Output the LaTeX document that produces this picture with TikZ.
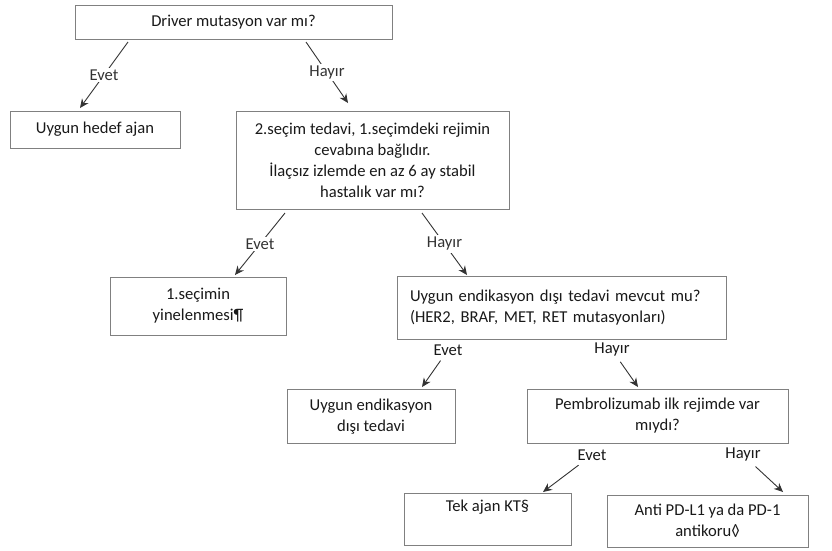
\documentclass[tikz,border=0pt]{standalone}
\usepackage{fontspec}
\setmainfont{Carlito}
\usetikzlibrary{arrows.meta, positioning}

\begin{document}
\begin{tikzpicture}[x=1pt, y=-1pt, font=\fontsize{16.6}{21}\selectfont, text=black!90,
    box/.style={draw=black!50, line width=1pt, align=center, inner sep=0pt},
    ans/.style={fill=white, inner sep=2pt},
    arr/.style={-{Stealth[length=9pt,width=8pt]}, black!80, line width=0.9pt}]
    \useasboundingbox (0,0) rectangle (832,550);
    % boxes
    \node (q1) [box, minimum width=317pt, minimum height=34pt] at (233.5,22) {Driver mutasyon var mı?};
    \node (q2) [box, minimum width=170pt, minimum height=37pt] at (95,129.5) {Uygun hedef ajan};
    \node (q3) [box, minimum width=273pt, minimum height=98pt] at (372.5,160)
        {2.seçim tedavi, 1.seçimdeki rejimin\\cevabına bağlıdır.\\İlaçsız izlemde en az 6 ay stabil\\hastalık var mı?};
    \node (q4) [box, minimum width=176pt, minimum height=58pt] at (198,306) {1.seçimin\\yinelenmesi¶};
    \node (q5) [box, align=left, text width=303pt, minimum width=329pt, minimum height=63pt] at (561.5,308)
        {Uygun endikasyon dışı tedavi mevcut mu?\\(HER2, BRAF, MET, RET mutasyonları)};
    \node (q6) [box, minimum width=168pt, minimum height=54pt] at (371,416.5) {Uygun endikasyon\\dışı tedavi};
    \node (q7) [box, minimum width=261pt, minimum height=54pt] at (657.5,416) {Pembrolizumab ilk rejimde var\\mıydı?};
    \node (q8) [box, minimum width=167pt, minimum height=52pt] at (487.5,519) {Tek ajan KT§\\\strut};
    \node (q9) [box, minimum width=201pt, minimum height=52pt] at (707.5,521) {Anti PD-L1 ya da PD-1\\antikoru◊};
    % connector ends
    \coordinate (s1) at (128,42);  \coordinate (t1) at (80,108);
    \coordinate (s2) at (306,42);  \coordinate (t2) at (348,103);
    \coordinate (s3) at (285,213); \coordinate (t3) at (235,275);
    \coordinate (s4) at (422,213); \coordinate (t4) at (467,275);
    \coordinate (t5) at (422,387); \coordinate (t6) at (638,387);
    \coordinate (t7) at (543,492); \coordinate (t8) at (783,492);
    % answers
    \draw [arr] (s1) -- node[ans] (e1) {Evet} (t1);
    \draw [arr] (s2) -- node[ans] (h1) {Hayır} (t2);
    \draw [arr] (s3) -- node[ans] (e2) {Evet} (t3);
    \draw [arr] (s4) -- node[ans] (h2) {Hayır} (t4);
    \node (e3) at (448,350) {Evet};
    \node (h3) at (612,350) {Hayır};
    \node (e4) at (592,455) {Evet};
    \node (h4) at (743,455) {Hayır};
    \path [arr, shorten <=2pt]
        (e3) edge (t5)
        (h3) edge (t6)
        (e4) edge (t7)
        (h4) edge (t8);
\end{tikzpicture}
\end{document}
